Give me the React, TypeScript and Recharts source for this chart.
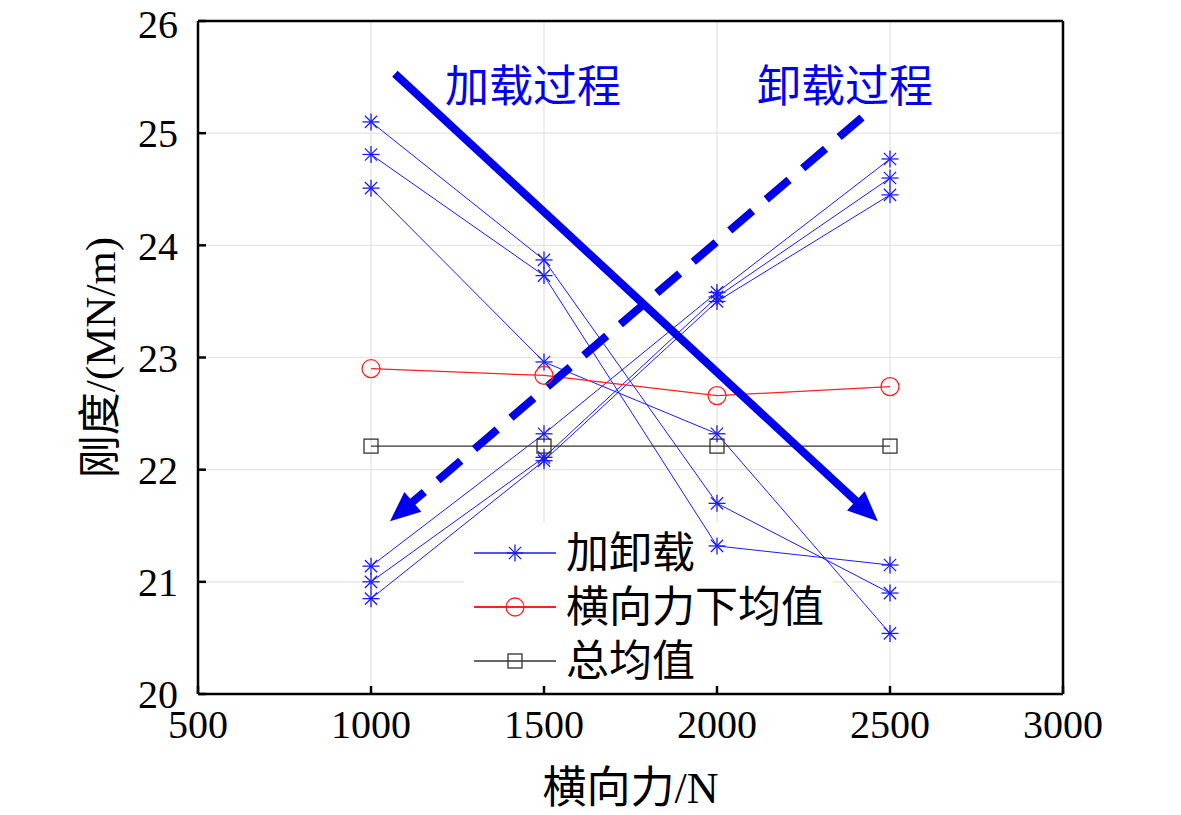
import { LineChart, Line, XAxis, YAxis, CartesianGrid, ReferenceLine, ReferenceDot, ReferenceArea } from 'recharts';

// 横向力 (N)
const forces = [1000, 1500, 2000, 2500];

// 加载过程 (stiffness falls as force rises)
const load1 = [25.1, 23.87, 21.7, 20.9];
const load2 = [24.81, 23.73, 21.32, 21.15];
const load3 = [24.51, 22.96, 22.32, 20.54];

// 卸载过程 (stiffness falls as force drops)
const unload1 = [21.14, 22.32, 23.58, 24.77];
const unload2 = [21.0, 22.11, 23.54, 24.6];
const unload3 = [20.85, 22.08, 23.5, 24.45];

const sideMean = [22.9, 22.84, 22.66, 22.74];
const totalMean = [22.21, 22.21, 22.21, 22.21];

const xTicks = [500, 1000, 1500, 2000, 2500, 3000];
const yTicks = [20, 21, 22, 23, 24, 25, 26];

// arrow annotations, in data units
const loadArrow = [{ x: 1069, y: 25.53 }, { x: 2465, y: 21.54 }];
const unloadArrow = [{ x: 2419, y: 25.14 }, { x: 1055, y: 21.54 }];

const legendLabels = ['加卸载', '横向力下均值', '总均值'];

const data = forces.map((force, i) => ({
  force,
  l1: load1[i],
  l2: load2[i],
  l3: load3[i],
  u1: unload1[i],
  u2: unload2[i],
  u3: unload3[i],
  side: sideMean[i],
  total: totalMean[i],
}));

const BLUE = '#1a1aff';
const RED = '#ff2020';
const GREY = '#333';
const FONT = '"Liberation Serif", "Times New Roman", "Noto Sans CJK SC", serif';

function Star(props: any) {
  const { cx, cy, stroke } = props;
  if (cx == null || cy == null) return null;
  const r = 8.5;
  const d = r * 0.72;
  return (
    <g stroke={stroke || BLUE} strokeWidth={1.3}>
      <line x1={cx} y1={cy - r} x2={cx} y2={cy + r} />
      <line x1={cx - r} y1={cy} x2={cx + r} y2={cy} />
      <line x1={cx - d} y1={cy - d} x2={cx + d} y2={cy + d} />
      <line x1={cx - d} y1={cy + d} x2={cx + d} y2={cy - d} />
    </g>
  );
}

function Circle(props: any) {
  const { cx, cy } = props;
  if (cx == null || cy == null) return null;
  return <circle cx={cx} cy={cy} r={9} fill="none" stroke={RED} strokeWidth={1.3} />;
}

function Square(props: any) {
  const { cx, cy } = props;
  if (cx == null || cy == null) return null;
  return <rect x={cx - 7} y={cy - 7} width={14} height={14} fill="none" stroke={GREY} strokeWidth={1.3} />;
}

function arrowShape(dashed: boolean) {
  return (props: any) => {
    const { x1, y1, x2, y2 } = props;
    if ([x1, y1, x2, y2].some((v) => v == null || isNaN(v))) return null;
    const dx = x2 - x1;
    const dy = y2 - y1;
    const len = Math.sqrt(dx * dx + dy * dy);
    const ux = dx / len;
    const uy = dy / len;
    const head = 30;
    const half = 13;
    const bx = x2 - ux * head;
    const by = y2 - uy * head;
    const pts = [
      `${x2},${y2}`,
      `${bx - uy * half},${by + ux * half}`,
      `${bx + uy * half},${by - ux * half}`,
    ].join(' ');
    return (
      <g>
        <line
          x1={x1}
          y1={y1}
          x2={bx + ux * 2}
          y2={by + uy * 2}
          stroke="#0000ee"
          strokeWidth={8}
          strokeDasharray={dashed ? '30 18' : undefined}
        />
        <polygon points={pts} fill="#0000ee" />
      </g>
    );
  };
}

function LegendBox() {
  const colors = [BLUE, RED, GREY];
  return (
    <svg width={380} height={165} style={{ display: 'block' }}>
      {legendLabels.map((label, i) => {
        const y = 26 + i * 54;
        return (
          <g key={label}>
            <line x1={10} y1={y} x2={92} y2={y} stroke={colors[i]} strokeWidth={i === 1 ? 2 : 1.3} />
            {i === 0 && <Star cx={51} cy={y} stroke={BLUE} />}
            {i === 1 && <Circle cx={51} cy={y} />}
            {i === 2 && <Square cx={51} cy={y} />}
            <text x={102} y={y + 15} fontSize={43} fontFamily={FONT} fill="#000">
              {label}
            </text>
          </g>
        );
      })}
    </svg>
  );
}

const blueLine = {
  type: 'linear' as const,
  stroke: BLUE,
  strokeWidth: 1,
  isAnimationActive: false,
  legendType: 'none' as const,
};

export default function App() {
  return (
    <div style={{ position: 'absolute', left: 0, top: 0, width: 1181, height: 815, background: '#fff' }}>
      <LineChart width={1181} height={815} data={data} margin={{ top: 20, right: 117, left: 0, bottom: 0 }}>
        <CartesianGrid stroke="#e3e3e3" strokeWidth={1.2} horizontalValues={yTicks} verticalValues={xTicks} />
        {/* white legend backdrop: hides the grid but sits under the data lines */}
        <ReferenceArea x1={1269} x2={2335} y1={20} y2={21.53} fill="#fff" fillOpacity={1} stroke="none" />
        <XAxis
          dataKey="force"
          type="number"
          domain={[500, 3000]}
          ticks={xTicks}
          height={121}
          stroke="#000"
          strokeWidth={2.5}
          tickSize={-8}
          tickMargin={24}
          tick={{ fontSize: 40, fontFamily: FONT, fill: '#000' }}
          label={{ value: '横向力/N', position: 'insideBottom', offset: 12, fontSize: 44, fontFamily: FONT, fill: '#000' }}
        />
        <XAxis
          xAxisId="top"
          orientation="top"
          dataKey="force"
          type="number"
          domain={[500, 3000]}
          ticks={xTicks}
          height={1}
          stroke="#000"
          strokeWidth={2.5}
          tickSize={-8}
          tick={false}
        />
        <YAxis
          type="number"
          domain={[20, 26]}
          ticks={yTicks}
          width={198}
          stroke="#000"
          strokeWidth={2.5}
          tickSize={-8}
          tickMargin={28}
          tick={{ fontSize: 40, fontFamily: FONT, fill: '#000' }}
          label={{ value: '刚度/(MN/m)', angle: -90, position: 'insideLeft', offset: 100, fontSize: 43, fontFamily: FONT, fill: '#000', style: { textAnchor: 'middle' } }}
        />
        <YAxis
          yAxisId="right"
          orientation="right"
          type="number"
          domain={[20, 26]}
          ticks={yTicks}
          width={1}
          stroke="#000"
          strokeWidth={2.5}
          tickSize={-8}
          tick={false}
        />
        <Line dataKey="l1" {...blueLine} dot={<Star />} />
        <Line dataKey="l2" {...blueLine} dot={<Star />} />
        <Line dataKey="l3" {...blueLine} dot={<Star />} />
        <Line dataKey="u1" {...blueLine} dot={<Star />} />
        <Line dataKey="u2" {...blueLine} dot={<Star />} />
        <Line dataKey="u3" {...blueLine} dot={<Star />} />
        <Line dataKey="side" type="linear" stroke={RED} strokeWidth={1.3} dot={<Circle />} isAnimationActive={false} legendType="none" />
        <Line dataKey="total" type="linear" stroke={GREY} strokeWidth={1.3} dot={<Square />} isAnimationActive={false} legendType="none" />
        <ReferenceLine segment={loadArrow} shape={arrowShape(false)} ifOverflow="visible" />
        <ReferenceLine segment={unloadArrow} shape={arrowShape(true)} ifOverflow="visible" />
        <ReferenceDot
          x={1468}
          y={25.42}
          r={0}
          ifOverflow="visible"
          label={{ value: '加载过程', position: 'center', fontSize: 44, fontFamily: FONT, fill: '#0000ee' }}
        />
        <ReferenceDot
          x={2370}
          y={25.42}
          r={0}
          ifOverflow="visible"
          label={{ value: '卸载过程', position: 'center', fontSize: 44, fontFamily: FONT, fill: '#0000ee' }}
        />
      </LineChart>
      <div style={{ position: 'absolute', left: 464, top: 527, pointerEvents: 'none' }}>
        <LegendBox />
      </div>
    </div>
  );
}
